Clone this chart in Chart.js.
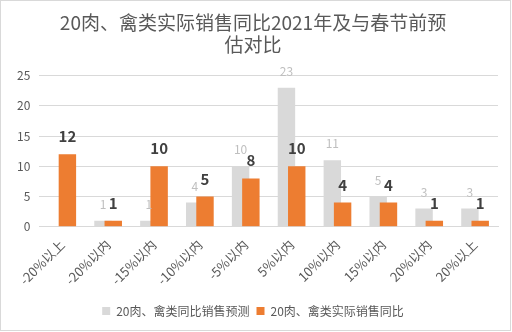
<!DOCTYPE html>
<html><head><meta charset="utf-8">
<script src="https://cdn.jsdelivr.net/npm/chart.js@4/dist/chart.umd.min.js"></script>
<style>html,body{margin:0;padding:0;background:#fff;}#wrap{width:512px;height:332px;}</style>
</head><body><div id="wrap"><canvas id="c" width="512" height="332"></canvas></div>
<script>
const categories = ['-20%以上','-20%以内','-15%以内','-10%以内','-5%以内','5%以内','10%以内','15%以内','20%以内','20%以上'];
const forecastValues = [0, 1, 1, 4, 10, 23, 11, 5, 3, 3];
const actualValues = [12, 1, 10, 5, 8, 10, 4, 4, 1, 1];
const yTicks = [0, 5, 10, 15, 20, 25];
const seriesNames = ['20肉、禽类同比销售预测', '20肉、禽类实际销售同比'];
const titleLines = ['20肉、禽类实际销售同比2021年及与春节前预', '估对比'];

const FONT = "'Noto Sans CJK SC', 'Noto Sans', sans-serif";

const overlapPlugin = {
  id: 'overlap',
  afterDatasetsUpdate(chart) {
    const xs = chart.scales.x;
    const cw = xs.width / categories.length;
    chart.data.datasets.forEach((ds, i) => {
      const meta = chart.getDatasetMeta(i);
      const off = (i === 0 ? -1 : 1) * 0.112 * cw;
      meta.data.forEach(el => { el.x += off; });
    });
  }
};

const labelPlugin = {
  id: 'labels',
  afterDatasetsDraw(chart) {
    const ctx = chart.ctx;
    ctx.save();
    ctx.textAlign = 'center';
    ctx.textBaseline = 'alphabetic';
    chart.data.datasets.forEach((ds, i) => {
      const meta = chart.getDatasetMeta(i);
      meta.data.forEach((el, j) => {
        const v = ds.data[j];
        if (!v) return;
        if (i === 0) {
          ctx.font = "12px " + FONT;
          ctx.fillStyle = '#bfbfbf';
          ctx.fillText(String(v), el.x, el.y - 12);
        } else {
          ctx.font = "bold 15px " + FONT;
          ctx.fillStyle = '#404040';
          ctx.fillText(String(v), el.x, el.y - 12);
        }
      });
    });
    ctx.restore();
  }
};

const bgPlugin = {
  id: 'bg',
  beforeDraw(chart) {
    const ctx = chart.ctx;
    ctx.save();
    ctx.fillStyle = '#ffffff';
    ctx.fillRect(0, 0, chart.width, chart.height);
    ctx.strokeStyle = '#d9d9d9';
    ctx.lineWidth = 1;
    ctx.strokeRect(0.5, 0.5, 510, 330);
    ctx.restore();
  }
};

new Chart(document.getElementById('c'), {
  type: 'bar',
  data: {
    labels: categories,
    datasets: [
      { label: seriesNames[0], data: forecastValues, backgroundColor: '#d9d9d9', order: 1,
        grouped: false, categoryPercentage: 0.38, barPercentage: 1 },
      { label: seriesNames[1], data: actualValues, backgroundColor: '#ed7d31', order: 0,
        grouped: false, categoryPercentage: 0.38, barPercentage: 1 }
    ]
  },
  options: {
    responsive: false,
    animation: false,
    devicePixelRatio: 1,
    layout: { padding: { left: 8, right: 14, top: 0, bottom: 5 } },
    plugins: {
      title: { display: true, text: titleLines, color: '#595959',
        font: { family: FONT, size: 19, weight: 'normal', lineHeight: 1.15 },
        padding: { top: 12, bottom: 20 } },
      legend: { position: 'bottom',
        labels: { boxWidth: 8, boxHeight: 8, color: '#595959', padding: 7,
          font: { family: FONT, size: 12 },
          sort: (a, b) => a.datasetIndex - b.datasetIndex } },
      tooltip: { enabled: false }
    },
    scales: {
      x: {
        grid: { display: false, drawTicks: false },
        border: { display: true, color: '#d9d9d9' },
        ticks: { color: '#595959', font: { family: FONT, size: 13 }, minRotation: 45, maxRotation: 45, padding: 10 }
      },
      y: {
        min: 0, max: 25,
        afterBuildTicks(axis) { axis.ticks = yTicks.map(v => ({ value: v })); },
        grid: { color: '#d9d9d9', drawTicks: false },
        border: { display: false },
        ticks: { color: '#595959', font: { family: FONT, size: 12 }, padding: 9 }
      }
    }
  },
  plugins: [bgPlugin, overlapPlugin, labelPlugin]
});
</script></body></html>
